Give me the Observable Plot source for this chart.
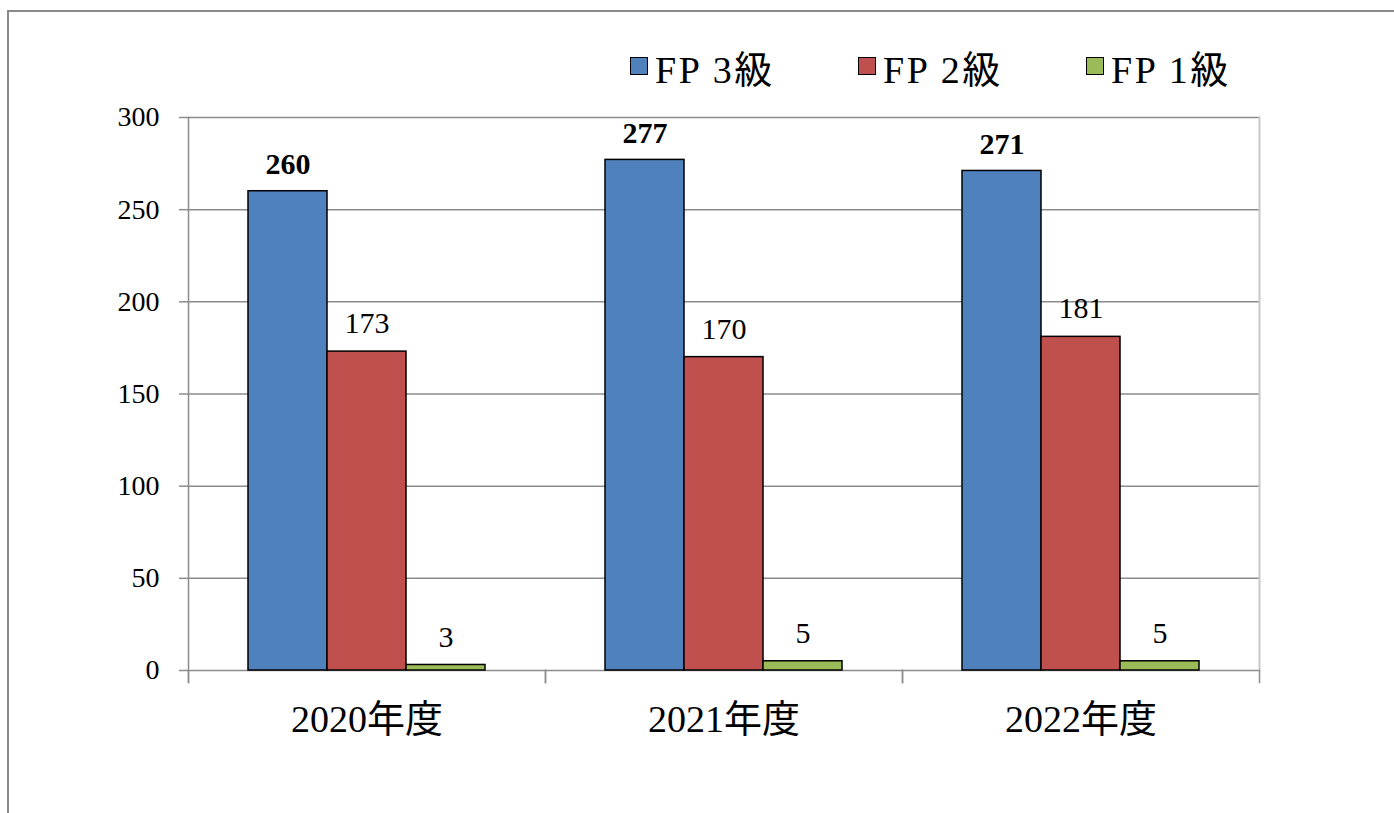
<!DOCTYPE html>
<html>
<head>
<meta charset="utf-8">
<script src="https://cdn.jsdelivr.net/npm/d3@7"></script>
<script src="https://cdn.jsdelivr.net/npm/@observablehq/plot@0.6"></script>
<style>
  html, body { margin: 0; padding: 0; background: #fff; overflow: hidden; }
  body { width: 1394px; height: 813px; position: relative; font-family: 'Liberation Serif', 'Noto Sans CJK JP', serif; }
  #frame { position: absolute; left: 7px; top: 10px; width: 2000px; height: 2000px;
           border-left: 2px solid #8a8a8a; border-top: 2px solid #8a8a8a; pointer-events: none; }
  #legend { height: 100px; box-sizing: border-box; padding-top: 32px; padding-left: 630px;
            display: flex; align-items: center; }
  .item { width: 228px; display: flex; align-items: center; font-size: 38px; letter-spacing: 2.5px; color: #000; }
  .sw { width: 16px; height: 16px; border: 1.5px solid #000; margin-right: 7px; flex: none; }
  #chart svg { display: block; }
</style>
</head>
<body>
<div id="frame"></div>
<div id="legend"></div>
<div id="chart"></div>
<script>
const years = ["2020年度", "2021年度", "2022年度"];
const seriesNames = ["FP 3級", "FP 2級", "FP 1級"];
const fp3 = [260, 277, 271];
const fp2 = [173, 170, 181];
const fp1 = [3, 5, 5];
const seriesColors = ["#4F81BD", "#C0504D", "#9BBB59"];
const yTicks = [0, 50, 100, 150, 200, 250, 300];

const seriesValues = [fp3, fp2, fp1];
const data = [];
years.forEach((year, i) => {
  seriesNames.forEach((s, j) => data.push({year, series: s, value: seriesValues[j][i]}));
});

// Legend
const legend = document.getElementById("legend");
seriesNames.forEach((s, j) => {
  const item = document.createElement("div");
  item.className = "item";
  const sw = document.createElement("span");
  sw.className = "sw";
  sw.style.background = seriesColors[j];
  const t = document.createElement("span");
  t.textContent = s;
  item.appendChild(sw);
  item.appendChild(t);
  legend.appendChild(item);
});

const gridColor = "#8c8c8c";
const H = 680, MT = 17, MB = 110;

const chart = Plot.plot({
  width: 1394,
  height: H,
  marginTop: MT,
  marginBottom: MB,
  marginLeft: 187,
  marginRight: 134,
  style: {fontFamily: "'Liberation Serif', 'Noto Sans CJK JP', serif", background: "transparent", color: "#000", overflow: "visible"},
  fx: {domain: years, padding: 0, label: null},
  x: {domain: seriesNames, paddingInner: 0, paddingOuter: 0.735, axis: null},
  y: {domain: [0, 300], label: null},
  color: {domain: seriesNames, range: seriesColors},
  marks: [
    Plot.gridY(yTicks, {stroke: gridColor, strokeOpacity: 1, strokeWidth: 1.5}),
    Plot.frame({facet: "super", anchor: "right", stroke: "#c8c8c8", strokeWidth: 2}),
    Plot.frame({facet: "super", anchor: "left", stroke: gridColor, strokeWidth: 1.5, insetBottom: -12}),
    Plot.frame({anchor: "left", stroke: gridColor, strokeWidth: 1.5, insetTop: H - MT - MB, insetBottom: -12}),
    Plot.frame({anchor: "right", stroke: gridColor, strokeWidth: 1.5, insetTop: H - MT - MB, insetBottom: -12}),
    Plot.axisY({ticks: yTicks, tickSize: 9, tickPadding: 20, fontSize: 28, stroke: gridColor, strokeWidth: 1.5, strokeOpacity: 1, label: null}),
    Plot.axisFx({anchor: "bottom", tickSize: 0, tickPadding: 35, fontSize: 38, label: null}),
    Plot.barY(data, {fx: "year", x: "series", y: "value", fill: "series", stroke: "#000", strokeWidth: 1.5}),
    Plot.text(data, {filter: d => d.series === seriesNames[0], fx: "year", x: "series", y: "value", text: d => String(d.value),
      dy: -27, fontSize: 30, fontWeight: "bold", fill: "#000"}),
    Plot.text(data, {filter: d => d.series !== seriesNames[0], fx: "year", x: "series", y: "value", text: d => String(d.value),
      dy: -28, fontSize: 30, fill: "#000"})
  ]
});
document.getElementById("chart").appendChild(chart);
</script>
</body>
</html>
